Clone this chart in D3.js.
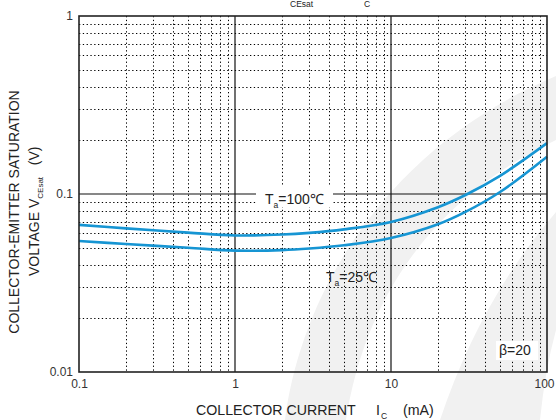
<!DOCTYPE html>
<html><head><meta charset="utf-8">
<script src="https://cdn.jsdelivr.net/npm/d3@7"></script>
<style>
html,body{margin:0;padding:0;background:#fff;}
svg{display:block;font-family:Arial,"Liberation Sans",sans-serif;}
</style></head>
<body>
<svg id="chart" width="556" height="420"></svg>
<script>
// ---- data ----
const currents = [0.1, 0.2, 0.5, 1, 2, 3, 5, 10, 20, 30, 50, 100];          // IC (mA)
const vce100   = [0.0671, 0.0641, 0.0607, 0.0585, 0.0592, 0.0605, 0.0633, 0.0697, 0.0843, 0.0987, 0.1265, 0.193]; // Ta=100C
const vce25    = [0.0544, 0.0524, 0.0499, 0.0481, 0.0484, 0.0494, 0.0515, 0.0566, 0.0676, 0.0793, 0.1026, 0.162]; // Ta=25C
const xTicks = [0.1, 1, 10, 100];
const xTickLabels = ["0.1", "1", "10", "100"];
const yTicks = [0.01, 0.1, 1];
const yTickLabels = ["0.01", "0.1", "1"];

const svg = d3.select("#chart");
const L = 79, R = 547, T = 16, B = 372;
const x = d3.scaleLog().domain([0.1, 100]).range([L, R]);
const y = d3.scaleLog().domain([0.01, 1]).range([B, T]);
const FONT = "Arial, 'Liberation Sans', sans-serif";

// watermark
const wm = svg.append("g").attr("fill", "#f1f1f1");
wm.append("path").attr("d", "M285,420 C300,300 380,150 556,76 L556,140 C430,200 365,300 346,420 Z");
wm.append("path").attr("d", "M440,420 Q480,300 556,212 L556,330 Q545,370 540,420 Z");

// minor grid (dotted)
const minorX = [], minorY = [];
[0.1, 1, 10].forEach(d => { for (let k = 2; k <= 9; k++) minorX.push(d * k); });
[0.01, 0.1].forEach(d => { for (let k = 2; k <= 9; k++) minorY.push(d * k); });
const grid = svg.append("g");
grid.selectAll(".mx").data(minorX).join("line")
  .attr("x1", d => Math.round(x(d)) + 0.5).attr("x2", d => Math.round(x(d)) + 0.5)
  .attr("y1", T).attr("y2", B)
  .attr("stroke", "#000").attr("stroke-width", 1).attr("stroke-dasharray", "1.3,2.5");
grid.selectAll(".my").data(minorY).join("line")
  .attr("y1", d => Math.round(y(d)) + 0.5).attr("y2", d => Math.round(y(d)) + 0.5)
  .attr("x1", L).attr("x2", R)
  .attr("stroke", "#000").attr("stroke-width", 1).attr("stroke-dasharray", "1.3,2.5");
// major grid
grid.selectAll(".Mx").data([1, 10]).join("line")
  .attr("x1", d => x(d)).attr("x2", d => x(d)).attr("y1", T).attr("y2", B)
  .attr("stroke", "#111").attr("stroke-width", 1.2);
grid.selectAll(".My").data([0.1]).join("line")
  .attr("y1", d => y(d)).attr("y2", d => y(d)).attr("x1", L).attr("x2", R)
  .attr("stroke", "#111").attr("stroke-width", 1.2);

// curves
const line = d3.line().x((d, i) => x(currents[i])).y(d => y(d)).curve(d3.curveCatmullRom.alpha(0.5));
[vce100, vce25].forEach(s => {
  svg.append("path").attr("d", line(s)).attr("fill", "none")
    .attr("stroke", "#1695d3").attr("stroke-width", 2.6);
});

// frame
svg.append("rect").attr("x", L).attr("y", T).attr("width", R - L).attr("height", B - T)
  .attr("fill", "none").attr("stroke", "#222").attr("stroke-width", 1.6);

// axes tick labels
const xAxis = d3.axisBottom(x).tickValues(xTicks).tickFormat((d, i) => xTickLabels[i]).tickSize(0).tickPadding(7);
const gx = svg.append("g").attr("transform", `translate(0,${B})`).call(xAxis);
gx.select(".domain").remove();
gx.selectAll("text").attr("font-size", 12).attr("fill", "#333").attr("font-family", FONT)
  .attr("dx", (d, i) => i === xTicks.length - 1 ? -3 : 0);
const yAxis = d3.axisLeft(y).tickValues(yTicks).tickFormat((d, i) => yTickLabels[i]).tickSize(0).tickPadding(6);
const gy = svg.append("g").attr("transform", `translate(${L},0)`).call(yAxis);
gy.select(".domain").remove();
gy.selectAll("text").attr("font-size", 12).attr("fill", "#333").attr("font-family", FONT);

// labels with white backgrounds
function subLabel(px, py, main, sub, rest, bg) {
  const g = svg.append("g");
  if (bg) g.append("rect").attr("x", bg[0]).attr("y", bg[1]).attr("width", bg[2]).attr("height", bg[3]).attr("fill", "#fff");
  const t = g.append("text").attr("x", px).attr("y", py).attr("font-size", 14).attr("fill", "#222");
  t.append("tspan").text(main);
  if (sub) t.append("tspan").attr("font-size", 8.5).attr("dy", 4).text(sub);
  t.append("tspan").attr("dy", sub ? -4 : 0).text(rest);
}
subLabel(265, 204, "T", "a", "=100℃", [256, 185, 77, 22]);
subLabel(326, 282, "T", "a", "=25℃", null);
subLabel(499, 355, "β=20", null, "", [496, 341, 42, 19]);

// title subscripts (the main title letters sit above the picture in the reference)
const title = svg.append("g").attr("font-size", 8.5).attr("fill", "#222");
title.append("text").attr("x", 290).attr("y", 7).text("CEsat");
title.append("text").attr("x", 364).attr("y", 7).text("C");

// x title
const xt = svg.append("text").attr("y", 415).attr("font-size", 14.2).attr("fill", "#222");
xt.append("tspan").attr("x", 196).text("COLLECTOR CURRENT");
xt.append("tspan").attr("x", 376).text("I");
xt.append("tspan").attr("x", 381).attr("dy", 4).attr("font-size", 8.5).text("C");
xt.append("tspan").attr("x", 403).attr("dy", -4).text("(mA)");

// y title (two lines, rotated)
svg.append("text").attr("transform", "translate(19,212) rotate(-90)")
  .attr("text-anchor", "middle").attr("font-size", 14).attr("fill", "#222")
  .text("COLLECTOR-EMITTER SATURATION");
const yt2 = svg.append("text").attr("transform", "translate(39,276) rotate(-90)")
  .attr("font-size", 14).attr("fill", "#222");
yt2.append("tspan").text("VOLTAGE  V");
yt2.append("tspan").attr("font-size", 8).attr("dy", 4).text("CEsat");
yt2.append("tspan").attr("dy", -4).attr("xml:space", "preserve").text("   (V)");
</script>
</body></html>
